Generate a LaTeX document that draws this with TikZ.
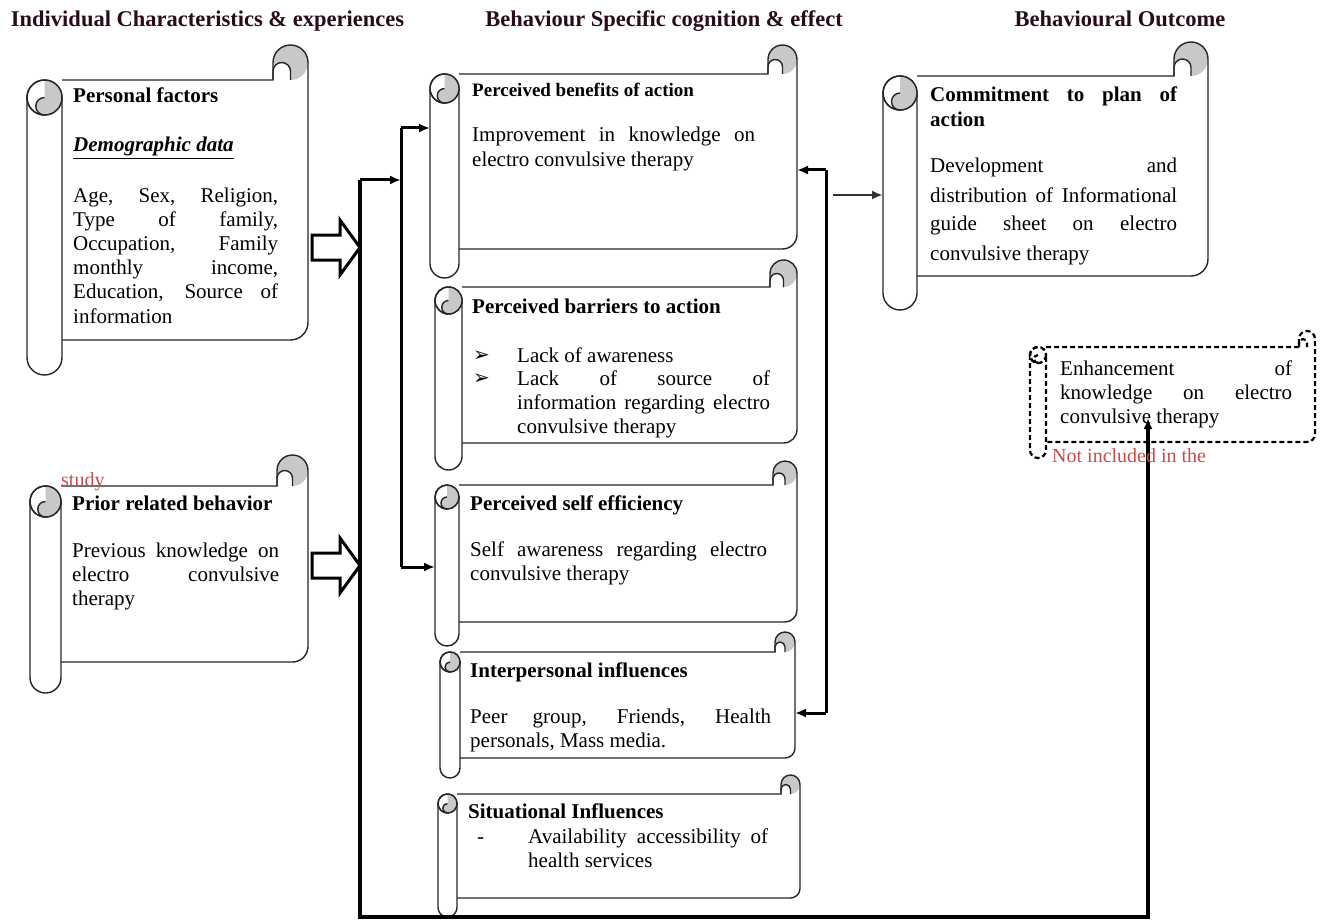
\documentclass[tikz,border=0pt]{standalone}
\usepackage{fontspec}
\setmainfont{Liberation Serif}
\newfontfamily\dejavu{DejaVu Sans}
\usetikzlibrary{arrows.meta,calc}
\definecolor{hdr}{RGB}{40,12,28}
\definecolor{redtxt}{RGB}{200,75,75}
\definecolor{curlgray}{RGB}{200,200,200}
\pretolerance=-1
\tolerance=10000
\hbadness=10000
\hfuzz=5pt
\newcommand\drawscroll[8]{%
  \pgfmathsetmacro\sL{#2}%
  \pgfmathsetmacro\sT{#3}%
  \pgfmathsetmacro\sR{#4}%
  \pgfmathsetmacro\sB{#5}%
  \pgfmathsetmacro\sd{#6}%
  \pgfmathsetmacro\sr{#6/2}%
  \pgfmathsetmacro\sq{#6/4}%
  \pgfmathsetmacro\sW{#4-#2}%
  \pgfmathsetmacro\sH{#5-#3-2*#6}%
  \node[inner sep=0pt, outer sep=0pt, minimum width=\sW pt, minimum height=\sH pt, anchor=north west] (#1) at (\sL,\sT+\sd) {};
  \fill[white] (\sL+\sd,\sT+\sd) -- (\sR-\sd,\sT+\sd) -- (\sR-\sd,\sT+\sr) arc (180:360:\sr) -- (\sR,\sB-\sd-\sr) arc (0:90:\sr) -- (\sL+\sd,\sB-\sd) -- cycle;
  \fill[#8] (\sR-\sr,\sT+\sr) circle (\sr);
  \filldraw[fill=white,#7] (\sR-\sd,\sT+\sd) -- (\sR-\sd,\sT+\sr+\sq) arc (180:360:\sq) -- (\sR-\sr,\sT+\sd);
  \draw[#7] (\sL+\sd,\sT+\sd) -- (\sR-\sd,\sT+\sd) -- (\sR-\sd,\sT+\sr) arc (180:360:\sr) -- (\sR,\sB-\sd-\sr) arc (0:90:\sr) -- (\sL+\sd,\sB-\sd);
  \filldraw[fill=white,#7] (\sL,\sT+\sd+\sr) -- (\sL,\sB-\sr) arc (180:0:\sr) -- (\sL+\sd,\sT+\sd+\sr);
  \filldraw[fill=white,#7] (\sL+\sr,\sT+\sd+\sr) circle (\sr);
  \fill[#8] (\sL+\sr,\sT+\sd) arc (270:450:\sr) arc (90:270:\sq) -- cycle;
  \draw[#7] (\sL+\sr,\sT+\sd+\sd) arc (90:270:\sq);
  \draw[#7] (\sL+\sr,\sT+\sd+\sr) circle (\sr);
}
\begin{document}
\begin{tikzpicture}[x=1pt,y=-1pt,
  outl/.style={draw=black!85, line width=1.4pt},
  dashl/.style={draw=black, line width=2.2pt, dash pattern=on 5pt off 3pt},
  conn/.style={draw=black, line width=3pt},
  arr/.style={-{Latex[length=11pt,width=9pt]}},
  txt/.style={anchor=base west, inner sep=0pt, align=justify, font=\fontsize{21}{24.2}\selectfont},
  ttl/.style={anchor=base west, inner sep=0pt, font=\fontsize{21}{24.5}\selectfont\bfseries},
  hd/.style={anchor=base, inner sep=0pt, font=\fontsize{22.5}{26}\selectfont\bfseries, text=hdr},
  redt/.style={anchor=base west, inner sep=0pt, font=\fontsize{20}{24}\selectfont, text=redtxt},
  blk/.style={draw=black, line width=3pt, fill=white, line join=miter},
  bul/.style={anchor=base west, inner sep=0pt, font=\dejavu\fontsize{20}{22}\selectfont}
]
\useasboundingbox (0,0) rectangle (1321,920);

% scrolls
\drawscroll{pf}{27}{45}{308}{375}{35}{outl}{curlgray}
\drawscroll{pr}{30}{455}{308}{693}{31}{outl}{curlgray}
\drawscroll{ben}{430}{45}{797}{278}{29}{outl}{curlgray}
\drawscroll{bar}{435}{260}{797}{470}{27}{outl}{curlgray}
\drawscroll{sel}{435}{461}{797}{646}{24}{outl}{curlgray}
\drawscroll{int}{440}{632}{795}{778}{20}{outl}{curlgray}
\drawscroll{sit}{438}{775}{800}{917}{19}{outl}{curlgray}
\drawscroll{com}{883}{42}{1208}{310}{34}{outl}{curlgray}
\drawscroll{enh}{1030}{331}{1315}{458}{16}{dashl}{white}

% junction coordinates
\coordinate (j1) at (360,180);
\coordinate (j2) at (401,180);
\coordinate (j3) at (401,128);
\coordinate (j4) at (401,567);
\coordinate (jb) at (360,917);
\coordinate (jc) at (1148,917);
\coordinate (enhtip) at (1148,418);
\coordinate (r1) at (826,170);
\coordinate (r2) at (826,713);
\coordinate (c1) at (833,195);

% block arrows
\draw[blk] (312,235) -- (340,235) -- (340,220) -- (360,247.5) -- (340,275) -- (340,260) -- (312,260) -- cycle;
\draw[blk] (312,553) -- (340,553) -- (340,538) -- (360,565.5) -- (340,593) -- (340,578) -- (312,578) -- cycle;

% connectors
\draw[conn, line width=3.6pt, arr] (j1) -- (jb) -- (jc) -- (enhtip);
\draw[conn, arr] (j1) -- (j2);
\draw[conn] (j3) -- (j4);
\draw[conn, arr] (j3) -- (ben.west |- j3);
\draw[conn, arr] (j4) -- (sel.west |- j4);
\draw[conn] (r1) -- (r2);
\draw[conn, arr] (r1) -- (ben.east |- r1);
\draw[conn, arr] (r2) -- (int.east |- r2);
\draw[conn, line width=2.4pt, draw=black!80, arr] (c1) -- (com.west |- c1);

% headers
\node[hd] (h1) at (207.5,27) {Individual Characteristics \& experiences};
\node[hd] (h2) at (664,27) {Behaviour Specific cognition \& effect};
\node[hd] (h3) at (1120,27) {Behavioural Outcome};

% personal factors
\node[ttl] (pft) at (73,103) {Personal factors};
\node[ttl] (pfd) at (73,152) {\underline{\textit{Demographic data}}};
\node[txt, text width=205pt] (pfx) at (73,202) {Age, Sex, Religion,\linebreak Type of family,\linebreak Occupation, Family\linebreak monthly income,\linebreak Education, Source of\linebreak information};

% prior related behavior
\node[ttl] (prt) at (72,510) {Prior related behavior};
\node[txt, text width=207pt] (prx) at (72,557) {Previous knowledge on\linebreak electro convulsive\linebreak therapy};
\node[redt] (study) at (61,486) {study};

% perceived benefits
\node[ttl, font=\fontsize{19}{23}\selectfont\bfseries] (bent) at (472,97) {Perceived benefits of action};
\node[txt, text width=283pt, font=\fontsize{21}{25}\selectfont] (benx) at (472,142) {Improvement in knowledge on\linebreak electro convulsive therapy};

% perceived barriers
\node[ttl] (bart) at (472,313) {Perceived barriers to action};
\node[bul] (bu1) at (473,361) {➢};
\node[txt, text width=253pt] (bx1) at (517,362) {Lack of awareness};
\node[bul] (bu2) at (473,384) {➢};
\node[txt, text width=253pt] (bx2) at (517,385) {Lack of source of\linebreak information regarding electro\linebreak convulsive therapy};

% perceived self efficiency
\node[ttl] (selt) at (470,510) {Perceived self efficiency};
\node[txt, text width=297pt] (selx) at (470,556) {Self awareness regarding electro\linebreak convulsive therapy};

% interpersonal influences
\node[ttl] (intt) at (470,677) {Interpersonal influences};
\node[txt, text width=301pt] (intx) at (470,723) {Peer group, Friends, Health\linebreak personals, Mass media.};

% situational influences
\node[ttl] (sitt) at (468,818) {Situational Influences};
\node[txt] (sitd) at (477,843) {-};
\node[txt, text width=240pt] (sitx) at (528,843) {Availability accessibility of\linebreak health services};

% commitment
\node[ttl, text width=247pt, align=justify] (comt) at (930,102) {Commitment to plan of\linebreak action};
\node[txt, text width=247pt, font=\fontsize{21}{29}\selectfont] (comx) at (930,173) {Development and\linebreak distribution of Informational\linebreak guide sheet on electro\linebreak convulsive therapy};

% enhancement (dashed)
\node[txt, text width=232pt] (enhx) at (1060,375) {Enhancement of\linebreak knowledge on electro\linebreak convulsive therapy};
\node[redt] (nin) at (1052,462) {Not included in the};
\end{tikzpicture}
\end{document}
